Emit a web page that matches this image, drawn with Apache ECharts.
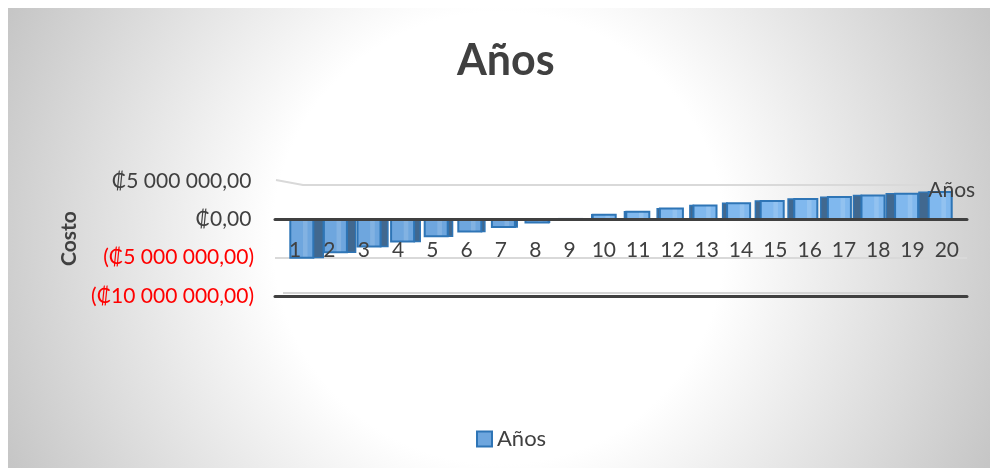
<!DOCTYPE html>
<html><head><meta charset="utf-8">
<style>html,body{margin:0;padding:0;background:#fff}#c{position:absolute;left:8px;top:8px;width:982px;height:460px}</style>
<script src="https://cdn.jsdelivr.net/npm/echarts@6/dist/echarts.min.js"></script>
</head><body><div id="c"></div>
<script>
const categories = ['1','2','3','4','5','6','7','8','9','10','11','12','13','14','15','16','17','18','19','20'];
const costValues = [-5000000,-4300000,-3550000,-2900000,-2200000,-1600000,-1000000,-400000,50000,600000,1000000,1400000,1800000,2100000,2400000,2650000,2900000,3100000,3350000,3550000];
const yTickLabels = {'5000000':'₡5 000 000,00\u2009','0':'₡0,00\u2009','-5000000':'(₡5 000 000,00)','-10000000':'(₡10 000 000,00)'};
const seriesName = 'Años';
const titleText = 'Años';
const yAxisName = 'Costo';
const FONT = 'Lato, "Open Sans", sans-serif';
const vanish = 565 - 8;

const chart = echarts.init(document.getElementById('c'));
function renderItem(params, api) {
  const i = api.value(0), v = api.value(1);
  const base = api.coord([i, 0]), top = api.coord([i, v]);
  const band = api.size([1, 0])[0];
  const w = band * 0.685, x = base[0] - w / 2;
  const y0 = Math.min(base[1], top[1]), h = Math.abs(base[1] - top[1]);
  const neg = v < 0;
  const face = neg ? '#6ea6de' : '#80b8ee';
  const stroke = '#2e75b6';
  const off = vanish - base[0];
  const depth = off * (off > 0 ? 0.038 : 0.026);
  const sideX = depth > 0 ? x + w : x + depth;
  const sideW = Math.abs(depth);
  const kids = [
    {type:'rect', shape:{x:sideX, y:y0, width:sideW, height:h}, style:{fill:'#41688f', stroke:'#2e75b6', lineWidth:1.4}},
    {type:'rect', shape:{x:x, y:y0, width:w, height:h}, style:{fill:face, stroke:stroke, lineWidth:2}},
    {type:'rect', shape:{x:x + w * 0.55, y:y0 + 1, width:w * 0.2, height:Math.max(h - 2, 0)}, style:{fill:'rgba(255,255,255,0.14)'}}
  ];
  if (params.dataIndex === categories.length - 1) {
    kids.push({type:'text', style:{text:seriesName, x:x + w, y:y0 - 2, align:'center', verticalAlign:'middle', font:'21px ' + FONT, fill:'#404040'}});
  }
  return {type:'group', children:kids};
}
chart.setOption({
  animation:false,
  backgroundColor:{type:'radial', x:.5, y:.5, r:1.17, colorStops:[{offset:0,color:'#fff'},{offset:.42,color:'#fff'},{offset:1,color:'#c6c6c6'}]},
  title:{text:titleText, left:444, top:27, itemGap:0, textStyle:{fontFamily:FONT, fontSize:43, fontWeight:'bold', color:'#404040'}},
  legend:{show:true, left:453, top:410, itemWidth:15, itemHeight:15, padding:[10,8,10,15], itemGap:3,
    backgroundColor:'rgba(255,255,255,0.75)', textStyle:{fontFamily:FONT, fontSize:22, color:'#404040'}, data:[{name:seriesName, icon:'rect'}]},
  grid:[
    {left:267, width:692, top:173, height:115},
    {left:277, width:672, top:173, height:115},
    {left:270, width:686, top:173, height:52}
  ],
  xAxis:[
    {gridIndex:0, type:'category', data:categories, z:10, axisLine:{onZero:true, lineStyle:{color:'#404040', width:3}}, axisTick:{show:false}, axisLabel:{show:false}},
    {gridIndex:0, type:'category', data:categories, position:'bottom', z:5, axisLine:{onZero:false, lineStyle:{color:'#404040', width:3}}, axisTick:{show:false}, axisLabel:{show:false}},
    {gridIndex:1, type:'category', data:categories, show:false},
    {gridIndex:2, type:'category', data:categories, z:12, position:'bottom', axisLine:{show:false, onZero:false}, axisTick:{show:false},
      axisLabel:{margin:7, interval:0, fontFamily:FONT, fontSize:21, color:'#404040'}}
  ],
  yAxis:[
    {gridIndex:0, type:'value', min:-10000000, max:5000000, interval:5000000,
      name:yAxisName, nameLocation:'middle', nameGap:194, nameRotate:90, nameTextStyle:{fontFamily:FONT, fontSize:21, fontWeight:'bold', color:'#404040'},
      axisLine:{show:false}, axisTick:{show:false},
      splitLine:{show:true, lineStyle:{color:['transparent','#d9d9d9','transparent','transparent'], width:2}},
      axisLabel:{margin:21, fontFamily:FONT, fontSize:21,
        color:v=>v<0?'#ff0000':'#404040',
        formatter:v=>yTickLabels[String(v)]}},
    {gridIndex:1, type:'value', min:-10000000, max:5000000, interval:5000000, show:false, splitLine:{show:false}},
    {gridIndex:2, type:'value', show:false, splitLine:{show:false}}
  ],
  series:[{type:'custom', name:seriesName, coordinateSystem:'cartesian2d', xAxisIndex:2, yAxisIndex:1, z:2, clip:false,
    itemStyle:{color:'#6ea6de', borderColor:'#2e75b6', borderWidth:1.5},
    encode:{x:0,y:1}, renderItem:renderItem,
    data:costValues.map((v,i)=>[i,v])}],
  graphic:[
    {type:'polyline', z:1, shape:{points:[[268,172],[295,177],[945,177]]}, style:{stroke:'#d9d9d9', lineWidth:2, fill:'none'}},
    {type:'line', z:1, shape:{x1:275,y1:285,x2:945,y2:285}, style:{stroke:'#d4d4d4', lineWidth:2}}
  ]
});
</script></body></html>
